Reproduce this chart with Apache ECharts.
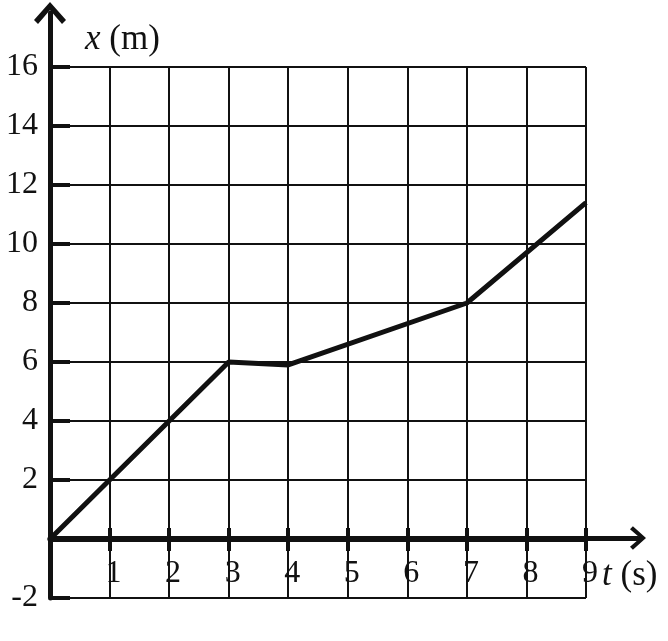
<!DOCTYPE html>
<html><head><meta charset="utf-8">
<script src="https://cdn.jsdelivr.net/npm/echarts@6/dist/echarts.min.js"></script>
<style>html,body{margin:0;padding:0;background:#fff}#c{width:668px;height:641px}</style>
</head><body><div id="c"></div>
<script>
// Data
const timeS = [0, 3, 4, 7, 9];
const positionM = [0, 6, 5.9, 8, 11.4];
const xTickValues = [1, 2, 3, 4, 5, 6, 7, 8, 9];
const yTickValues = [-2, 0, 2, 4, 6, 8, 10, 12, 14, 16];

const FONT = 'Liberation Serif';
const INK = '#111';
const chevron = 'path://M0,18 L16,0 L32,18 L28,22 L16,8 L4,22 Z';
const rich = { i: { fontStyle: 'italic', fontFamily: FONT, fontSize: 35, color: INK } };

const chart = echarts.init(document.getElementById('c'), null, { renderer: 'canvas' });
chart.setOption({
  animation: false,
  backgroundColor: '#fff',
  grid: [
    { left: 50, right: 82, top: 67, bottom: 43 },
    { left: 50, right: 30, top: 13, bottom: 103 },
    { left: 50, right: 82, top: 67, bottom: 103 }
  ],
  xAxis: [
    {
      type: 'value', gridIndex: 0, min: 0, max: 9, interval: 1, position: 'bottom',
      axisLine: { show: true, onZero: true, lineStyle: { color: INK, width: 5 } },
      axisTick: { show: true, inside: true, length: 11, lineStyle: { color: INK, width: 4 }, customValues: xTickValues },
      axisLabel: { show: false },
      splitLine: { show: true, lineStyle: { color: INK, width: 2 } },
      name: '{i|t} (s)', nameLocation: 'end', nameGap: 16,
      nameTextStyle: { color: INK, fontFamily: FONT, fontSize: 35, align: 'left', verticalAlign: 'top', padding: [19, 0, 0, 0], rich: rich }
    },
    {
      type: 'value', gridIndex: 2, min: 0, max: 9, interval: 1, position: 'bottom',
      axisLine: { show: false, onZero: false },
      axisTick: { show: true, inside: false, length: 13, lineStyle: { color: INK, width: 4 }, customValues: xTickValues },
      axisLabel: { margin: 20, color: INK, fontFamily: FONT, fontSize: 32, customValues: xTickValues, padding: [0, 0, 0, 8] },
      splitLine: { show: false }
    },
    {
      type: 'value', gridIndex: 1, min: 0, max: 1, position: 'bottom',
      axisLine: { show: true, onZero: false, symbol: ['none', chevron], symbolSize: [28, 16], lineStyle: { color: INK, width: 5 } },
      axisTick: { show: false }, axisLabel: { show: false }, splitLine: { show: false }
    }
  ],
  yAxis: [
    {
      type: 'value', gridIndex: 0, min: -2, max: 16, interval: 2, position: 'left',
      axisLine: { show: true, onZero: false, lineStyle: { color: INK, width: 5 } },
      axisTick: { show: true, inside: true, length: 20, lineStyle: { color: INK, width: 4 }, customValues: yTickValues },
      axisLabel: { margin: 12, color: INK, fontFamily: FONT, fontSize: 32, formatter: v => (v === 0 ? '' : String(v)) },
      splitLine: { show: true, lineStyle: { color: INK, width: 2 } },
      name: '{i|x} (m)', nameLocation: 'end', nameGap: 10,
      nameTextStyle: { color: INK, fontFamily: FONT, fontSize: 35, align: 'left', verticalAlign: 'bottom', padding: [0, 0, 0, 35], rich: rich }
    },
    {
      type: 'value', gridIndex: 1, min: 0, max: 1, position: 'left',
      axisLine: { show: true, onZero: false, symbol: ['none', chevron], symbolSize: [32, 22], lineStyle: { color: INK, width: 5 } },
      axisTick: { show: false }, axisLabel: { show: false }, splitLine: { show: false }
    },
    {
      type: 'value', gridIndex: 2, min: 0, max: 1, show: false
    }
  ],
  series: [{
    type: 'line', xAxisIndex: 0, yAxisIndex: 0,
    data: timeS.map((t, i) => [t, positionM[i]]),
    symbol: 'none', lineStyle: { color: INK, width: 5 }, z: 5
  }]
});
</script>
</body></html>
